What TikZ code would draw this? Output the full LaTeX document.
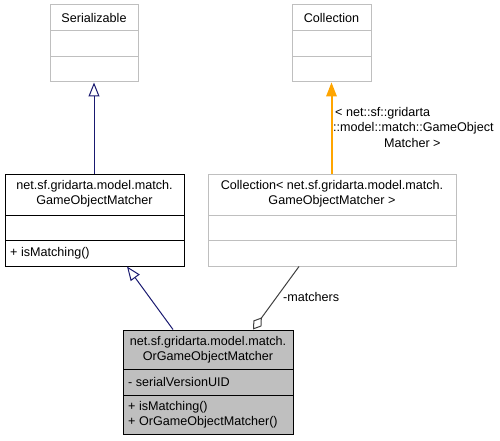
\documentclass[tikz,border=0pt]{standalone}
\usepackage{fontspec}
\setmainfont{Liberation Sans}
\usetikzlibrary{arrows.meta}
\definecolor{boxgray}{HTML}{BFBFBF}
\definecolor{edgeblue}{HTML}{191970}
\definecolor{edgeorange}{RGB}{255,165,0}
\definecolor{edgegray}{HTML}{404040}
\tikzset{
  classbox/.style={draw=black, line width=1pt, rectangle, inner sep=0pt},
  extbox/.style={draw=boxgray, line width=1pt, rectangle, inner sep=0pt},
  mainbox/.style={draw=black, fill=boxgray, line width=1pt, rectangle, inner sep=0pt},
  txt/.style={inner sep=0pt, font=\fontsize{12.6}{15}\selectfont, align=center},
  ltxt/.style={inner sep=0pt, font=\fontsize{12.6}{15}\selectfont, align=left, anchor=west},
  inherit/.style={color=edgeblue, line width=1pt, -{Triangle[open, length=14pt, width=11pt]}},
  templ/.style={line width=2pt, -{Triangle[length=14pt, width=11pt, line width=0pt]}},
  aggr/.style={color=edgegray, line width=1pt, -{Diamond[open, length=15pt, width=10pt]}},
}
\begin{document}
\begin{tikzpicture}[x=1pt, y=-1pt]
\useasboundingbox (0,0) rectangle (500,441);
% Serializable
\node[extbox, minimum width=88pt, minimum height=77pt] (ser) at (94,43.5) {};
\node[txt] (sert) at (94,18) {Serializable};
\draw[boxgray, line width=1pt] (50,31) -- (138,31) (50,57) -- (138,57);
% Collection
\node[extbox, minimum width=79pt, minimum height=77pt] (col) at (331.5,43.5) {};
\node[txt] (colt) at (331.5,18) {Collection};
\draw[boxgray, line width=1pt] (292,31) -- (371,31) (292,57) -- (371,57);
% GameObjectMatcher
\node[classbox, minimum width=179pt, minimum height=92pt] (gom) at (94.5,220) {};
\node[txt] (gomt) at (94.5,194) {net.sf.gridarta.model.match.\\GameObjectMatcher};
\draw[black, line width=1pt] (5,215) -- (184,215) (5,240) -- (184,240);
\node[ltxt] (gomm) at (10,253) {+ isMatching()};
% Collection< ... >
\node[extbox, minimum width=248pt, minimum height=92pt] (colg) at (332,220) {};
\node[txt] (colgt) at (332,194) {Collection< net.sf.gridarta.model.match.\\GameObjectMatcher >};
\draw[boxgray, line width=1pt] (208,215) -- (456,215) (208,240) -- (456,240);
% OrGameObjectMatcher
\node[mainbox, minimum width=170pt, minimum height=104pt] (org) at (208,382) {};
\node[txt] (orgt) at (208,350) {net.sf.gridarta.model.match.\\OrGameObjectMatcher};
\draw[black, line width=1pt] (123,369) -- (293,369) (123,395) -- (293,395);
\node[ltxt] (orga) at (128,382) {- serialVersionUID};
\node[ltxt] (orgm) at (128,414.5) {+ isMatching()\\+ OrGameObjectMatcher()};
% edges
\draw[inherit] (gom.north -| ser.south) -- (ser.south);
\draw[templ, draw=edgeorange, fill=edgeorange] (colg.north -| col.south) -- (col.south);
\node[ltxt] (tl1) at (335,113) {< net::sf::gridarta};
\node[ltxt] (tl2) at (333,128) {::model::match::GameObject};
\node[ltxt] (tl3) at (384,143) {Matcher >};
\draw[inherit] (org.north -| 173,0) -- (gom.south -| 127,0);
\draw[aggr] (colg.south -| 299,0) -- (org.north -| 253,0);
\node[ltxt] (aggl) at (283,297) {-matchers};
\end{tikzpicture}
\end{document}
